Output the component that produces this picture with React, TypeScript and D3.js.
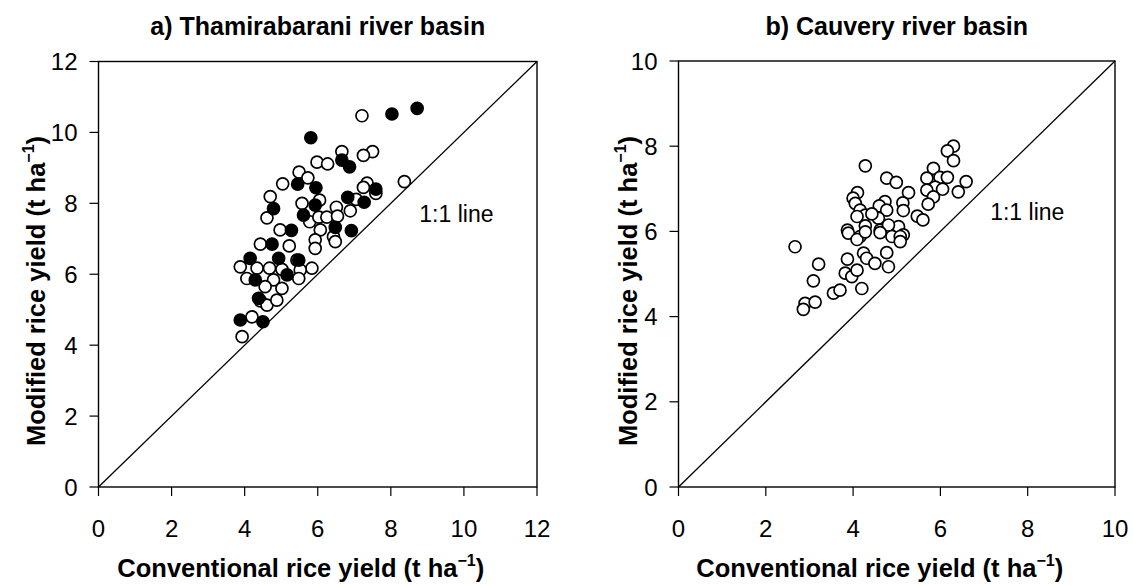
import React from "react";
import * as d3 from "d3";

// Thamirabarani basin: farms shown with filled markers
const thamFilledConv = [8.72, 8.03, 5.81, 6.66, 6.87, 5.45, 5.95, 7.59, 6.82, 7.27, 4.79, 5.93, 5.61, 6.92, 6.48, 5.28, 4.75, 4.15, 4.93, 5.48, 5.16, 4.29, 4.38, 3.88, 4.5];
const thamFilledMod = [10.68, 10.52, 9.85, 9.22, 9.03, 8.54, 8.44, 8.4, 8.17, 8.03, 7.85, 7.95, 7.67, 7.23, 7.32, 7.24, 6.85, 6.45, 6.45, 6.4, 5.98, 5.84, 5.32, 4.71, 4.66];

// Thamirabarani basin: farms shown with open markers
const thamOpenConv = [7.21, 6.66, 5.98, 6.27, 7.5, 7.25, 5.49, 5.73, 5.04, 4.7, 8.37, 7.35, 7.25, 7.59, 6.05, 5.57, 7.05, 6.51, 4.61, 5.78, 6.03, 6.25, 6.54, 6.89, 4.97, 6.07, 5.93, 6.43, 4.43, 5.22, 5.93, 3.88, 4.34, 4.68, 5.02, 5.43, 5.84, 5.52, 4.06, 4.79, 5.48, 4.56, 5.02, 4.43, 4.61, 4.88, 4.2, 3.93, 6.48];
const thamOpenMod = [10.47, 9.46, 9.16, 9.11, 9.46, 9.35, 8.88, 8.72, 8.55, 8.19, 8.61, 8.57, 8.45, 8.28, 8.09, 8.0, 8.11, 7.89, 7.59, 7.48, 7.61, 7.61, 7.64, 7.79, 7.25, 7.25, 6.97, 7.06, 6.85, 6.8, 6.73, 6.21, 6.17, 6.17, 6.14, 6.4, 6.17, 6.12, 5.88, 5.84, 5.88, 5.65, 5.6, 5.25, 5.13, 5.27, 4.8, 4.24, 6.92];

// Cauvery basin farms
const cauveryConv = [6.3, 6.16, 6.3, 4.28, 4.77, 4.99, 5.84, 5.69, 5.99, 6.16, 6.59, 6.41, 5.88, 6.05, 5.69, 5.27, 5.84, 5.72, 4.1, 4.0, 4.05, 4.73, 4.6, 5.14, 5.15, 5.47, 5.6, 4.77, 4.16, 4.28, 4.09, 4.58, 4.43, 4.62, 4.28, 3.87, 5.04, 5.15, 4.81, 4.16, 4.89, 2.67, 3.21, 3.09, 2.9, 3.13, 2.86, 3.55, 3.7, 3.87, 3.82, 3.97, 4.09, 4.2, 4.24, 4.31, 4.5, 4.77, 4.81, 3.89, 4.09, 4.28, 4.62, 5.08, 5.08];
const cauveryMod = [8.0, 7.89, 7.66, 7.54, 7.25, 7.15, 7.48, 7.25, 7.27, 7.27, 7.17, 6.93, 7.04, 6.99, 6.97, 6.91, 6.81, 6.64, 6.91, 6.78, 6.66, 6.7, 6.6, 6.67, 6.49, 6.36, 6.27, 6.5, 6.5, 6.38, 6.35, 6.31, 6.41, 6.03, 6.13, 6.03, 6.11, 5.92, 6.15, 5.88, 5.88, 5.64, 5.23, 4.84, 4.31, 4.34, 4.17, 4.55, 4.62, 5.35, 5.02, 4.94, 5.09, 4.66, 5.49, 5.37, 5.25, 5.5, 5.17, 5.96, 5.81, 5.99, 5.97, 5.88, 5.76];

const thamTicks = [0, 2, 4, 6, 8, 10, 12];
const cauveryTicks = [0, 2, 4, 6, 8, 10];

const FONT = "'Liberation Sans', Arial, sans-serif";

type Series = { conv: number[]; mod: number[]; filled: boolean };

type PanelProps = {
  left: number;
  right: number;
  top: number;
  bottom: number;
  max: number;
  ticks: number[];
  title: string;
  series: Series[];
  lineLabelAt: [number, number];
  yTitleX: number;
};

function Panel({ left, right, top, bottom, max, ticks, title, series, lineLabelAt, yTitleX }: PanelProps) {
  const x = d3.scaleLinear().domain([0, max]).range([left, right]);
  const y = d3.scaleLinear().domain([0, max]).range([bottom, top]);
  const tickLen = 9;
  const midX = (left + right) / 2;
  const diag = d3.line<number>().x((v) => x(v)).y((v) => y(v))([0, max]) || "";

  return (
    <g fontFamily={FONT} fill="#000">
      <text x={midX} y={35} textAnchor="middle" fontSize={25} fontWeight="bold">
        {title}
      </text>

      {/* 1:1 reference line */}
      <path d={diag} stroke="#000" strokeWidth={1.3} fill="none" />
      <text x={x(lineLabelAt[0])} y={y(lineLabelAt[1])} fontSize={23}>
        1:1 line
      </text>

      {series.map((s, si) =>
        s.conv.map((c, i) => (
          <circle
            key={`${si}-${i}`}
            cx={x(c)}
            cy={y(s.mod[i])}
            r={6}
            fill={s.filled ? "#000" : "#fff"}
            stroke="#000"
            strokeWidth={1.7}
          />
        ))
      )}

      <rect x={left} y={top} width={right - left} height={bottom - top} fill="none" stroke="#000" strokeWidth={1.4} />

      {ticks.map((t) => (
        <g key={`x${t}`}>
          <line x1={x(t)} x2={x(t)} y1={bottom} y2={bottom + tickLen} stroke="#000" strokeWidth={1.2} />
          <text x={x(t)} y={bottom + 50} textAnchor="middle" fontSize={24}>
            {t}
          </text>
        </g>
      ))}
      {ticks.map((t) => (
        <g key={`y${t}`}>
          <line x1={left - tickLen} x2={left} y1={y(t)} y2={y(t)} stroke="#000" strokeWidth={1.2} />
          <text x={left - 21} y={y(t) + 8.5} textAnchor="end" fontSize={24}>
            {t}
          </text>
        </g>
      ))}

      <text x={midX - 17} y={577} textAnchor="middle" fontSize={25.5} fontWeight="bold">
        Conventional rice yield (t ha
        <tspan dy={-11} fontSize={16}>−1</tspan>
        <tspan dy={11}>)</tspan>
      </text>
      <text
        transform={`translate(${yTitleX},291) rotate(-90)`}
        textAnchor="middle"
        fontSize={25.5}
        fontWeight="bold"
      >
        Modified rice yield (t ha
        <tspan dy={-11} fontSize={16}>−1</tspan>
        <tspan dy={11}>)</tspan>
      </text>
    </g>
  );
}

export default function App() {
  return (
    <svg width={1133} height={585} style={{ position: "absolute", left: 0, top: 0, background: "#fff" }}>
      <rect width={1133} height={585} fill="#fff" />
      <Panel
        left={98.5}
        right={537}
        top={61.5}
        bottom={487}
        max={12}
        ticks={thamTicks}
        title="a) Thamirabarani river basin"
        series={[
          { conv: thamOpenConv, mod: thamOpenMod, filled: false },
          { conv: thamFilledConv, mod: thamFilledMod, filled: true },
        ]}
        lineLabelAt={[8.78, 7.48]}
        yTitleX={45}
      />
      <Panel
        left={678.5}
        right={1115}
        top={61}
        bottom={487}
        max={10}
        ticks={cauveryTicks}
        title="b) Cauvery river basin"
        series={[{ conv: cauveryConv, mod: cauveryMod, filled: false }]}
        lineLabelAt={[7.14, 6.27]}
        yTitleX={637}
      />
    </svg>
  );
}
